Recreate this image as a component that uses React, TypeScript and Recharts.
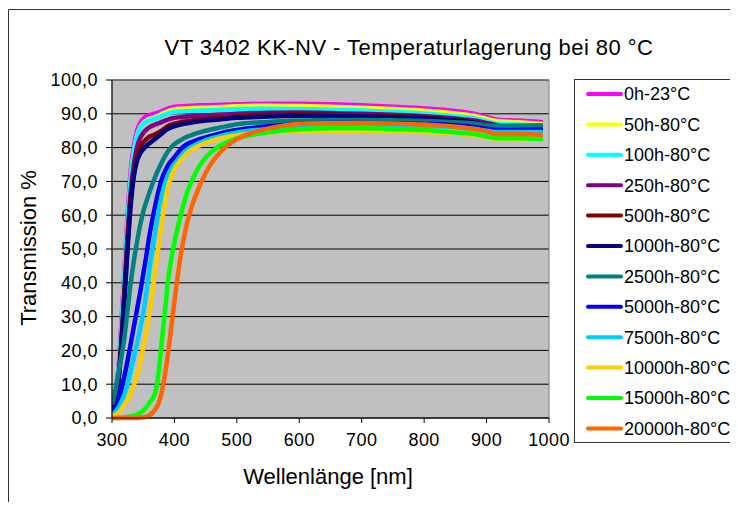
import React from 'react';
import { LineChart, Line, XAxis, YAxis, CartesianGrid, ReferenceArea } from 'recharts';

const wavelengths = [300, 305, 310, 315, 320, 325, 330, 335, 340, 345, 350, 355, 360, 365, 370, 375, 380, 385, 390, 395, 400, 410, 420, 430, 440, 450, 475, 500, 550, 600, 650, 700, 750, 800, 850, 880, 900, 920, 950, 990];

const seriesNames = ['0h-23°C', '50h-80°C', '100h-80°C', '250h-80°C', '500h-80°C', '1000h-80°C', '2500h-80°C', '5000h-80°C', '7500h-80°C', '10000h-80°C', '15000h-80°C', '20000h-80°C'];
const seriesColors = ['#FF00FF', '#FFFF00', '#00FFFF', '#800080', '#800000', '#000080', '#008080', '#0000FF', '#00CCFF', '#FFCC00', '#00FF00', '#FF6600'];

const v0h = [2, 6, 14, 28, 44, 60, 73, 80.5, 85, 87.3, 88.5, 89.2, 89.6, 89.9, 90.1, 90.4, 90.8, 91.2, 91.6, 91.9, 92.1, 92.2, 92.3, 92.4, 92.5, 92.5, 92.7, 92.8, 93, 93, 92.8, 92.5, 92.1, 91.6, 90.8, 90, 89, 88.2, 88, 87.5];
const v50h = [1.5, 5, 12, 25, 41, 57, 70, 78.5, 83.5, 86, 87.3, 88, 88.5, 88.8, 89.1, 89.5, 90, 90.4, 90.8, 91.1, 91.3, 91.5, 91.6, 91.7, 91.8, 91.8, 92, 92.2, 92.4, 92.3, 92.1, 91.8, 91.4, 90.9, 90.1, 89.4, 88.5, 87.8, 87.5, 87];
const v100h = [2, 5.5, 13, 26, 42, 58, 71, 79, 83.5, 85.8, 87, 87.7, 88.1, 88.4, 88.7, 89, 89.4, 89.8, 90.1, 90.4, 90.6, 90.7, 90.8, 90.9, 91, 91, 91.2, 91.4, 91.5, 91.4, 91.2, 91, 90.6, 90.1, 89.3, 88.7, 87.8, 87, 86.8, 86.5];
const v250h = [2, 4.5, 11, 23, 38, 54, 67, 75, 80, 82.8, 84.3, 85.3, 86, 86.5, 86.9, 87.2, 87.6, 88, 88.3, 88.6, 88.8, 89, 89.2, 89.3, 89.4, 89.5, 89.8, 90, 90.3, 90.4, 90.2, 90, 89.7, 89.3, 88.6, 88, 87.3, 86.5, 86.3, 86];
const v500h = [2, 4.5, 11, 22, 37, 52, 65, 73, 77.5, 80, 81.5, 82.5, 83.2, 83.6, 84, 84.5, 85.1, 85.8, 86.4, 86.8, 87.1, 87.5, 87.8, 88.1, 88.3, 88.5, 88.9, 89.2, 89.7, 89.9, 89.8, 89.6, 89.3, 88.9, 88.2, 87.6, 86.8, 86, 85.8, 85.5];
const v1000h = [2, 4, 10, 21, 35, 50, 63, 71.5, 76, 78.2, 79.5, 80.5, 81.3, 82, 82.7, 83.4, 84.2, 85, 85.6, 86, 86.3, 86.8, 87.2, 87.5, 87.8, 88, 88.4, 88.8, 89.2, 89.4, 89.3, 89.2, 89, 88.6, 88, 87.4, 86.6, 85.8, 85.6, 85.3];
const v2500h = [4, 8, 13, 18, 24, 32, 40, 46.5, 52, 57, 61, 64, 66.8, 69.3, 71.7, 73.8, 75.7, 77.5, 79, 80.1, 81, 82.2, 83.2, 83.9, 84.5, 85, 86, 86.9, 87.6, 88, 88.2, 88.2, 88.1, 87.9, 87.5, 87.1, 86.6, 86.3, 86.5, 86.6];
const v5000h = [2, 3, 5, 8.5, 12.5, 17, 22, 27, 32, 37, 42.5, 48, 54, 59, 63.5, 67.5, 70.8, 73, 74.8, 76.1, 77.2, 79.5, 81, 81.8, 82.5, 83, 84.3, 85.2, 86.3, 87, 87.3, 87.3, 87.2, 87, 86.6, 86.1, 85.6, 85.2, 85.2, 85.2];
const v7500h = [1, 1.8, 3, 4.8, 7, 10, 14, 18, 22, 26.5, 31, 37, 44, 50, 56, 61.5, 66, 69.5, 72, 73.8, 75, 77.5, 79.3, 80.5, 81.5, 82.2, 83.5, 84.5, 85.5, 86.2, 86.6, 86.7, 86.6, 86.4, 86, 85.5, 85, 84.6, 84.6, 84.6];
const v10000h = [0.5, 0.8, 1.5, 2.5, 4, 5.5, 7.5, 9.8, 12.5, 16.3, 21, 25.5, 31, 38, 45, 51.5, 58, 64, 68.5, 71.5, 73.5, 76.3, 78.3, 79.6, 80.6, 81.4, 82.8, 83.6, 84.5, 84.9, 85, 85, 84.9, 84.6, 84.1, 83.6, 83, 82.5, 82.5, 82.4];
const v15000h = [0, 0, 0, 0.1, 0.2, 0.3, 0.5, 0.7, 1, 1.5, 2.2, 3.2, 4.5, 5.8, 8, 14, 23, 32, 41, 47, 52, 60, 66.5, 71, 74.5, 77, 80.8, 82.7, 84.5, 85.4, 85.7, 85.7, 85.5, 85.2, 84.5, 84, 83.3, 82.8, 82.8, 82.5];
const v20000h = [0, 0, 0, 0, 0, 0, 0, 0, 0, 0.1, 0.2, 0.4, 0.8, 1.6, 2.8, 4.5, 8, 13, 19.5, 27, 34.5, 48, 57.5, 63.8, 68.5, 72.5, 79, 82.5, 85.6, 87, 87.2, 87.3, 87.1, 86.8, 86.2, 85.5, 84.8, 84, 84, 83.7];

const seriesValues = [v0h, v50h, v100h, v250h, v500h, v1000h, v2500h, v5000h, v7500h, v10000h, v15000h, v20000h];

const xTicks = [300, 400, 500, 600, 700, 800, 900, 1000];
const yTicks = [0, 10, 20, 30, 40, 50, 60, 70, 80, 90, 100];

const titleText = 'VT 3402 KK-NV - Temperaturlagerung bei 80 °C';
const xTitle = 'Wellenlänge [nm]';
const yTitle = 'Transmission %';

const FONT = '"Liberation Sans", Arial, sans-serif';

const data = wavelengths.map((w, i) => {
  const row: Record<string, number> = { w };
  seriesValues.forEach((vals, k) => {
    row['s' + k] = vals[i];
  });
  return row;
});

const fmt = (v: number) => v.toFixed(1).replace('.', ',');

export default function App() {
  return (
    <div style={{ position: 'relative', width: 738, height: 510, margin: -8, overflow: 'hidden', background: '#fff', fontFamily: FONT }}>
      <LineChart
        width={738}
        height={510}
        data={data}
        margin={{ top: 80, right: 189, bottom: 52, left: 52 }}
        style={{ position: 'absolute', left: 0, top: 0 }}
      >
        <CartesianGrid vertical={false} stroke="#000" fill="#C0C0C0" fillOpacity={1} />
        <ReferenceArea x1={300} x2={1000} y1={0} y2={100} fill="none" stroke="#808080" strokeWidth={1} ifOverflow="visible" />
        <XAxis
          dataKey="w"
          type="number"
          domain={[300, 1000]}
          ticks={xTicks}
          height={40}
          tickSize={5}
          tickMargin={10}
          axisLine={{ stroke: '#000' }}
          tickLine={{ stroke: '#000' }}
          tick={{ fill: '#000', fontSize: 18, fontFamily: FONT, letterSpacing: 0.4 }}
          allowDataOverflow
        />
        <YAxis
          type="number"
          domain={[0, 100]}
          ticks={yTicks}
          width={60}
          tickSize={6}
          tickMargin={8}
          tickFormatter={fmt}
          axisLine={{ stroke: '#000' }}
          tickLine={{ stroke: '#000' }}
          tick={{ fill: '#000', fontSize: 18, fontFamily: FONT, letterSpacing: 0.5 }}
        />
        {seriesNames.map((name, k) => (
          <Line
            key={name}
            name={name}
            dataKey={'s' + k}
            type="monotone"
            stroke={seriesColors[k]}
            strokeWidth={4.5}
            dot={false}
            activeDot={false}
            isAnimationActive={false}
          />
        ))}
      </LineChart>
      <svg width={738} height={510} style={{ position: 'absolute', left: 0, top: 0, pointerEvents: 'none' }}>
        <line x1={8.5} y1={9.5} x2={738} y2={9.5} stroke="#333" strokeWidth={1} />
        <line x1={8.5} y1={9.5} x2={8.5} y2={510} stroke="#333" strokeWidth={1} />
        <text x={409} y={55} textAnchor="middle" fontSize={22} letterSpacing={0.45} fontFamily={FONT} fill="#000">{titleText}</text>
        <text x={328} y={484} textAnchor="middle" fontSize={22} fontFamily={FONT} fill="#000">{xTitle}</text>
        <text x={36} y={248} textAnchor="middle" fontSize={22} fontFamily={FONT} fill="#000" transform="rotate(-90, 36, 248)">{yTitle}</text>
        <rect x={574.5} y={79.5} width={200} height={363} fill="#fff" stroke="#333" strokeWidth={1} />
        {seriesNames.map((name, k) => {
          const cy = 94 + k * 30.4;
          return (
            <g key={name}>
              <line x1={588} y1={cy} x2={621} y2={cy} stroke={seriesColors[k]} strokeWidth={4} strokeLinecap="round" />
              <text x={624} y={cy + 6.4} fontSize={18} fontFamily={FONT} fill="#000">{name}</text>
            </g>
          );
        })}
      </svg>
    </div>
  );
}
